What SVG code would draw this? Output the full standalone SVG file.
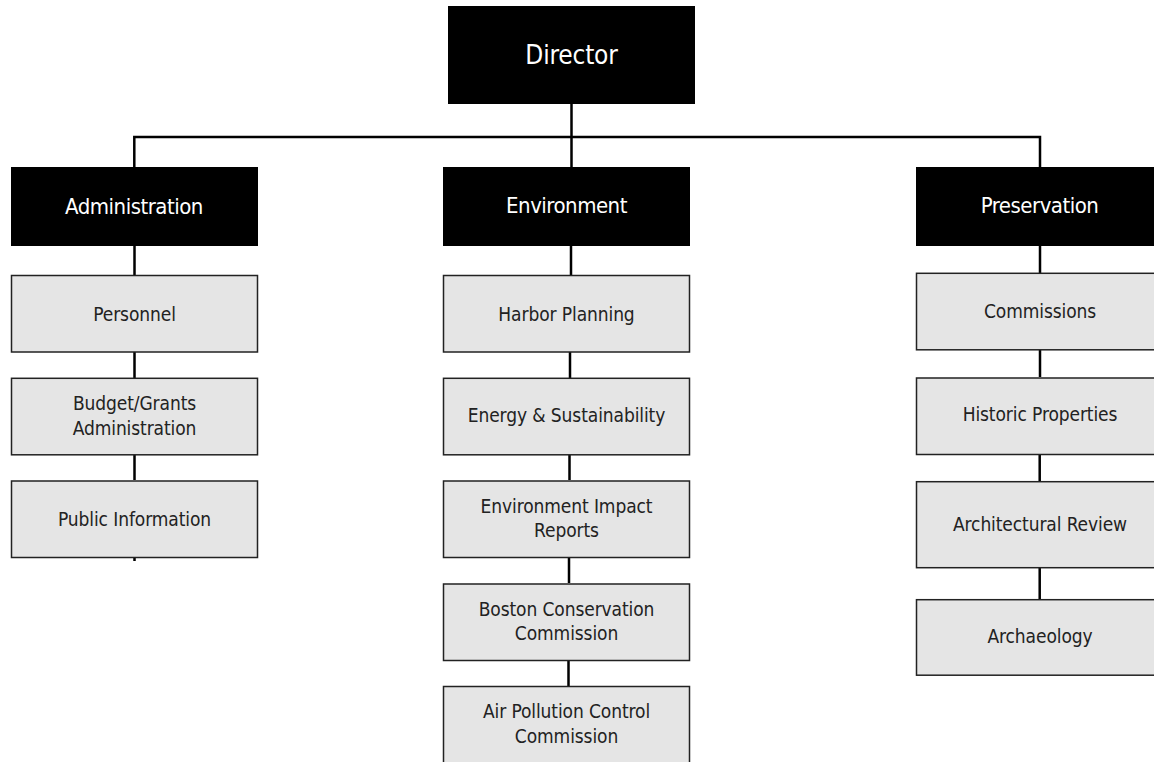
<svg xmlns="http://www.w3.org/2000/svg" width="1154" height="762" viewBox="0 0 1154 762">
<style>
.blk{fill:#000}
.gry{fill:#e5e5e5;stroke:#222;stroke-width:1.5}
.con{fill:none;stroke:#000;stroke-width:2.5}
text{font-family:"DejaVu Sans Condensed","Liberation Sans Narrow","Liberation Sans",sans-serif;text-anchor:middle}
.t0{fill:#fff;font-size:26px;letter-spacing:-0.2px}
.t1{fill:#fff;font-size:22px;letter-spacing:-0.5px}
.t2{fill:#222;font-size:19px;letter-spacing:-0.1px}
</style>
<rect width="1154" height="762" fill="#fff"/>
<g id="connectors">
<path class="con" d="M571.5,104V167M134.3,167V137H1040V167"/>
<path class="con" d="M134.5,246V275M134.5,352V378M134.5,455V480M134.5,557V561"/>
<path class="con" d="M571,246V275M570,352V378M569.5,455V480M569,557V583M568.5,660V686"/>
<path class="con" d="M1040,246V273M1040,350V377M1039.7,455V481M1039.7,568V599"/>
</g>
<g id="director"><rect class="blk" x="448" y="6" width="247" height="98"/><text class="t0" x="571.5" y="64">Director</text></g>
<g id="administration"><rect class="blk" x="11" y="167" width="247" height="79"/><text class="t1" x="134" y="213.5">Administration</text></g>
<g id="environment"><rect class="blk" x="443" y="167" width="247" height="79"/><text class="t1" x="566.5" y="213">Environment</text></g>
<g id="preservation"><rect class="blk" x="916" y="167" width="250" height="79"/><text class="t1" x="1039.5" y="213">Preservation</text></g>

<g id="personnel"><rect class="gry" x="11.5" y="275.5" width="246" height="76.5"/><text class="t2" x="134.5" y="320.7">Personnel</text></g>
<g id="budget"><rect class="gry" x="11.5" y="378.3" width="246" height="76.5"/><text class="t2" x="134.5" y="410.4">Budget/Grants</text><text class="t2" x="134.5" y="434.7">Administration</text></g>
<g id="public-info"><rect class="gry" x="11.5" y="481" width="246" height="76.5"/><text class="t2" x="134.5" y="525.5">Public Information</text></g>

<g id="harbor"><rect class="gry" x="443.5" y="275.5" width="246" height="76.5"/><text class="t2" x="566.5" y="320.7">Harbor Planning</text></g>
<g id="energy"><rect class="gry" x="443.5" y="378.3" width="246" height="76.5"/><text class="t2" x="566.5" y="422.4">Energy &amp; Sustainability</text></g>
<g id="eir"><rect class="gry" x="443.5" y="481" width="246" height="76.5"/><text class="t2" x="566.5" y="513">Environment Impact</text><text class="t2" x="566.5" y="537.4">Reports</text></g>
<g id="boston"><rect class="gry" x="443.5" y="584" width="246" height="76.5"/><text class="t2" x="566.5" y="615.5">Boston Conservation</text><text class="t2" x="566.5" y="640.4">Commission</text></g>
<g id="air"><rect class="gry" x="443.5" y="686.5" width="246" height="76.5"/><text class="t2" x="566.5" y="718.4">Air Pollution Control</text><text class="t2" x="566.5" y="743">Commission</text></g>

<g id="commissions"><rect class="gry" x="916.5" y="273.3" width="260" height="76.5"/><text class="t2" x="1040" y="318">Commissions</text></g>
<g id="historic"><rect class="gry" x="916.5" y="378" width="260" height="76.5"/><text class="t2" x="1040" y="421.4">Historic Properties</text></g>
<g id="arch-review"><rect class="gry" x="916.5" y="481.7" width="260" height="86"/><text class="t2" x="1040" y="530.7">Architectural Review</text></g>
<g id="archaeology"><rect class="gry" x="916.5" y="599.7" width="260" height="75.5"/><text class="t2" x="1040" y="643">Archaeology</text></g>
</svg>
